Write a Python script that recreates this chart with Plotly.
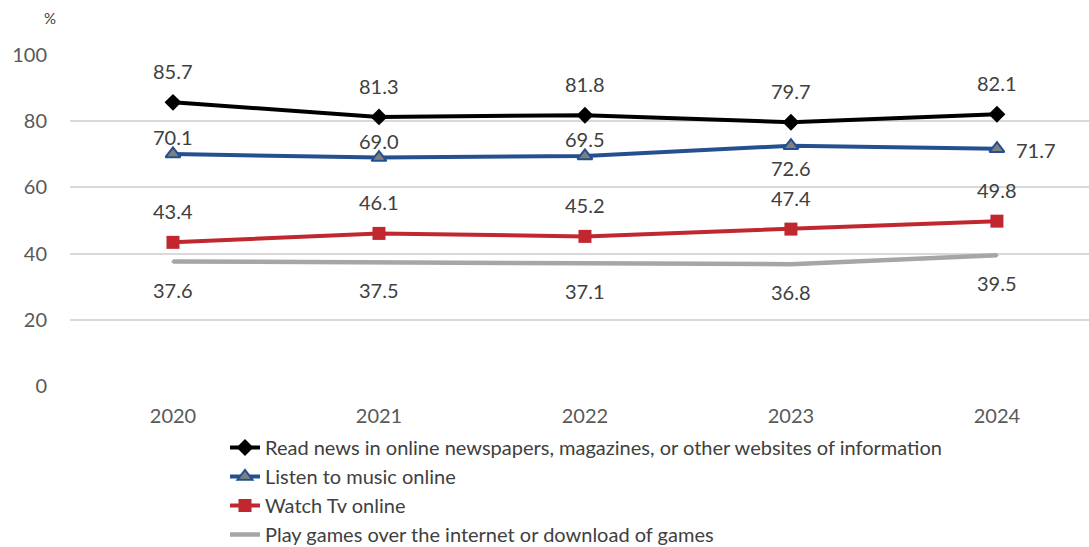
import plotly.graph_objects as go

years = ["2020", "2021", "2022", "2023", "2024"]
news = [85.7, 81.3, 81.8, 79.7, 82.1]
music = [70.1, 69.0, 69.5, 72.6, 71.7]
tv = [43.4, 46.1, 45.2, 47.4, 49.8]
games = [37.6, 37.5, 37.1, 36.8, 39.5]

names = [
    "Read news in online newspapers, magazines, or other websites of information",
    "Listen to music online",
    "Watch Tv online",
    "Play games over the internet or download of games",
]
series = [news, music, tv, games]
colors = ["#000000", "#24508F", "#C1272F", "#A6A6A6"]
markers = [
    dict(symbol="diamond", size=13, color="#000000"),
    dict(symbol="triangle-up", size=13, color="#7F7F7F", line=dict(color="#24508F", width=2)),
    dict(symbol="square", size=13, color="#C1272F"),
    dict(symbol="circle", size=3, color="#A6A6A6"),
]
widths = [4, 4, 4, 4.5]
# label placement per point
placements = [
    ["above"] * 5,
    ["above_s", "above_s", "above_s", "below_s", "right"],
    ["above"] * 5,
    ["below"] * 5,
]
shift = {
    "above": (0, 31),
    "above_s": (0, 17),
    "below_s": (0, -22),
    "below": (0, -28),
    "right": (39, -1),
}

FONT = "Lato, 'Noto Sans', sans-serif"
L, T, W, H = 70, 55, 1019, 331

fig = go.Figure()
annotations = []
for i, (nm, vals) in enumerate(zip(names, series)):
    fig.add_trace(go.Scatter(
        x=years, y=vals, name=nm, mode="lines+markers",
        line=dict(color=colors[i], width=widths[i]),
        marker=markers[i], legendgroup=f"g{i}",
        hoverinfo="skip", cliponaxis=False,
    ))
    for k, (v, p) in enumerate(zip(vals, placements[i])):
        dx, dy = shift[p]
        annotations.append(dict(
            x=k, y=v, xref="x", yref="y", text=f"{v:.1f}", showarrow=False,
            xshift=dx, yshift=dy, xanchor="center", yanchor="middle",
            font=dict(family=FONT, size=20, color="#404040"),
        ))

annotations.append(dict(
    xref="paper", yref="paper", x=(50 - L) / W, y=(H + T - 18) / H,
    text="%", showarrow=False, xanchor="center", yanchor="middle",
    font=dict(family=FONT, size=15, color="#404040"),
))

fig.update_layout(
    width=1089, height=547,
    margin=dict(l=L, r=0, t=T, b=547 - T - H, autoexpand=False),
    paper_bgcolor="white", plot_bgcolor="white",
    font=dict(family=FONT, color="#595959"),
    annotations=annotations,
    showlegend=True,
    legend=dict(
        xref="paper", yref="paper", x=(225 - L) / W, y=(T + H - 428) / H,
        xanchor="left", yanchor="top",
        font=dict(family=FONT, size=20, color="#404040"),
        tracegroupgap=0, bgcolor="rgba(0,0,0,0)",
    ),
    xaxis=dict(
        type="category", range=[-0.5, 4.447], showgrid=False, showline=False,
        zeroline=False, ticks="", tickangle=0,
        tickfont=dict(family=FONT, size=20, color="#595959"),
        ticklabelstandoff=16, fixedrange=True,
    ),
    yaxis=dict(
        range=[0, 100], dtick=20, showgrid=True, gridcolor="#D9D9D9", gridwidth=1.5,
        zeroline=False, showline=False, ticks="",
        tickfont=dict(family=FONT, size=20, color="#595959"),
        ticklabelstandoff=22, fixedrange=True,
    ),
)

fig.write_html("out.html")
